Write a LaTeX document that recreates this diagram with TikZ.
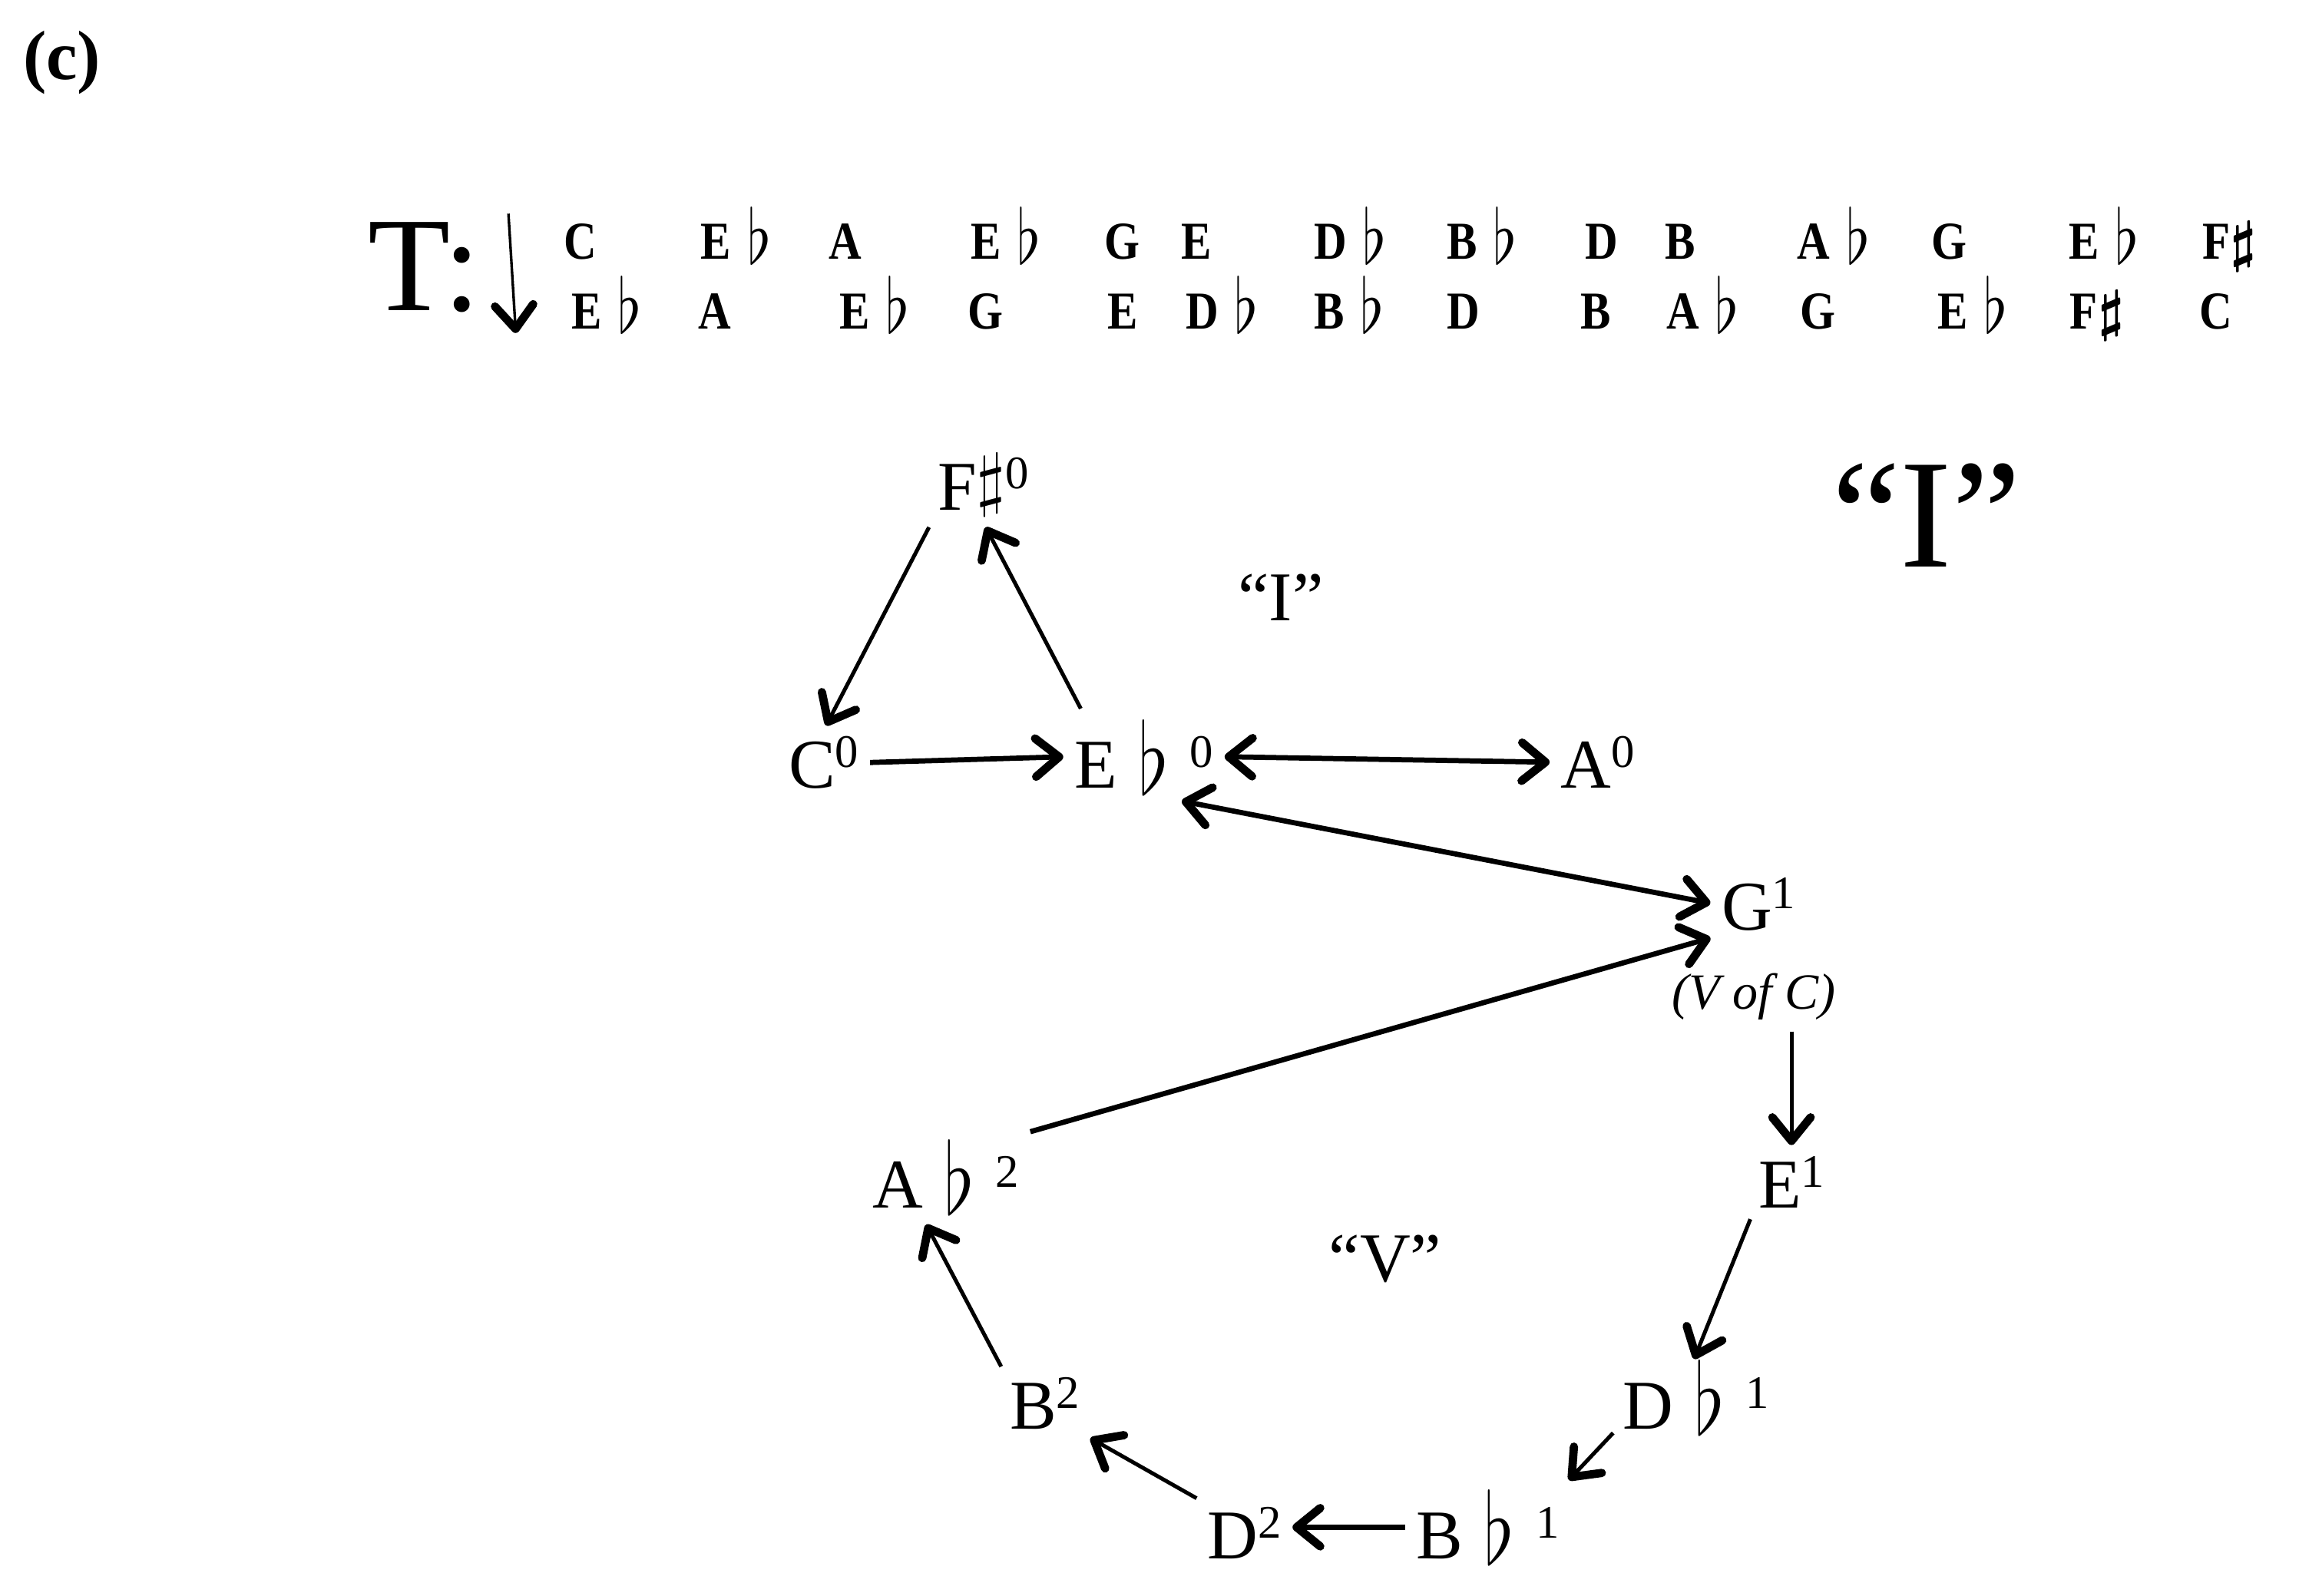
\documentclass[tikz,border=0pt]{standalone}
\usepackage{fix-cm}
\usepackage{fontspec}
\setmainfont{Liberation Serif}
\newfontfamily\notefont[FakeStretch=0.85]{Liberation Serif}
\usetikzlibrary{arrows.meta}
\newcommand{\fl}{\raisebox{-0.08em}{\scalebox{1.15}[1.42]{$\flat$}}}
\newcommand{\sh}{\raisebox{0.1em}{\scalebox{1.1}[1]{$\sharp$}}}
\newcommand{\shb}{\raisebox{-0.02em}{\scalebox{1.1}[1.05]{\boldmath$\sharp$}}}
\newcommand{\ap}[1]{\raisebox{0.3em}{\fontsize{9}{10}\selectfont #1}}

\begin{document}
\begin{tikzpicture}[x=0.1mm, y=-0.1mm,
        >={Straight Barb[length=1.6mm,width=2.6mm,line width=1.6pt,round]},
        pc/.style={font=\fontsize{13.5}{16}\selectfont, inner sep=1pt, anchor=base west},
        nota/.style={font=\notefont\bfseries\fontsize{10.3}{12}\selectfont, inner sep=0pt, anchor=base west},
        freccia/.style={->, line width=0.75pt, shorten <=1pt, shorten >=1pt}]
        \useasboundingbox (0,0) rectangle (1560,1083);

        % Titolo
        \node[font=\bfseries\fontsize{13.5}{16}\selectfont, anchor=base west, inner sep=0pt] (tit) at (15,54) {(c)};
        \node[font=\fontsize{26}{30}\selectfont, anchor=base west, inner sep=0pt] (T) at (249,211) {T:};
        \coordinate (ftop) at (345,145);
        \coordinate (fbot) at (350,226);
        \draw[->, line width=0.5pt] (ftop) -- (fbot);

        % Riga superiore
        \node[nota] (t1) at (382,176) {C};
        \node[nota] (t2) at (475,176) {E\hspace{0.3em}\fl};
        \node[nota] (t3) at (562,176) {A};
        \node[nota] (t4) at (658,176) {E\hspace{0.3em}\fl};
        \node[nota] (t5) at (749,176) {G};
        \node[nota] (t6) at (801,176) {E};
        \node[nota] (t7) at (891,176) {D\hspace{0.3em}\fl};
        \node[nota] (t8) at (981,176) {B\hspace{0.3em}\fl};
        \node[nota] (t9) at (1075,176) {D};
        \node[nota] (t10) at (1129,176) {B};
        \node[nota] (t11) at (1219,176) {A\hspace{0.3em}\fl};
        \node[nota] (t12) at (1310,176) {G};
        \node[nota] (t13) at (1403,176) {E\hspace{0.3em}\fl};
        \node[nota] (t14) at (1494,176) {F\shb};

        % Riga inferiore
        \node[nota] (b1) at (387,223) {E\hspace{0.3em}\fl};
        \node[nota] (b2) at (473,223) {A};
        \node[nota] (b3) at (569,223) {E\hspace{0.3em}\fl};
        \node[nota] (b4) at (656,223) {G};
        \node[nota] (b5) at (751,223) {E};
        \node[nota] (b6) at (804,223) {D\hspace{0.3em}\fl};
        \node[nota] (b7) at (891,223) {B\hspace{0.3em}\fl};
        \node[nota] (b8) at (981,223) {D};
        \node[nota] (b9) at (1072,223) {B};
        \node[nota] (b10) at (1130,223) {A\hspace{0.3em}\fl};
        \node[nota] (b11) at (1221,223) {G};
        \node[nota] (b12) at (1314,223) {E\hspace{0.3em}\fl};
        \node[nota] (b13) at (1404,223) {F\shb};
        \node[nota] (b14) at (1492,223) {C};

        % Accordi
        \node[pc] (fs) at (632,346) {F\sh\ap{0}};
        \node[pc] (c0) at (531,535) {C\ap{0}};
        \node[pc] (eb0) at (725,535) {E\hspace{0.3em}\fl\hspace{0.3em}\ap{0}};
        \node[pc] (a0) at (1055,535) {A\ap{0}};
        \node[pc] (g1) at (1164,631) {G\ap{1}};
        \node[font=\itshape\fontsize{9.8}{12}\selectfont, inner sep=1pt, anchor=base] (voc) at (1190,685) {(V of C)};
        \node[pc] (e1) at (1189,820) {E\ap{1}};
        \node[pc] (ab2) at (588,820) {A\hspace{0.3em}\fl\hspace{0.3em}\ap{2}};
        \node[pc] (bq2) at (681,970) {B\ap{2}};
        \node[pc] (db1) at (1097,970) {D\hspace{0.3em}\fl\hspace{0.3em}\ap{1}};
        \node[pc] (d2) at (815,1058) {D\ap{2}};
        \node[pc] (bb1) at (957,1058) {B\hspace{0.3em}\fl\hspace{0.3em}\ap{1}};

        % Etichette
        \node[pc, anchor=base] (lI) at (869,421) {“I”};
        \node[pc, anchor=base] (lV) at (940,870) {“V”};
        \node[font=\fontsize{30}{36}\selectfont, anchor=base west, inner sep=0pt] (bigI) at (1242,385) {“I”};

        % Frecce
        \draw[freccia] (fs.south west) -- (c0.north);
        \draw[freccia] ([xshift=1mm]eb0.north west) -- (fs.south);
        \draw[freccia, line width=1pt] (c0.east) -- (eb0.west);
        \draw[freccia, <->, line width=1pt] (eb0.east) -- (a0.west);
        \draw[freccia, <->, line width=1pt] (eb0.-53) -- (g1.west);
        \draw[freccia, line width=1pt] (ab2.north east) -- (g1.south west);
        \draw[freccia] (voc.south -| e1.north) -- (e1.north);
        \draw[freccia, shorten >=-1pt] (e1.south west) -- (db1.north);
        \draw[freccia] (db1.base west) -- (bb1.north east);
        \draw[freccia, line width=1pt] (bb1.west) -- (bb1.west -| d2.east);
        \draw[freccia] (d2.north west) -- (bq2.south east);
        \draw[freccia] (bq2.north west) -- (ab2.-117);
\end{tikzpicture}
\end{document}
